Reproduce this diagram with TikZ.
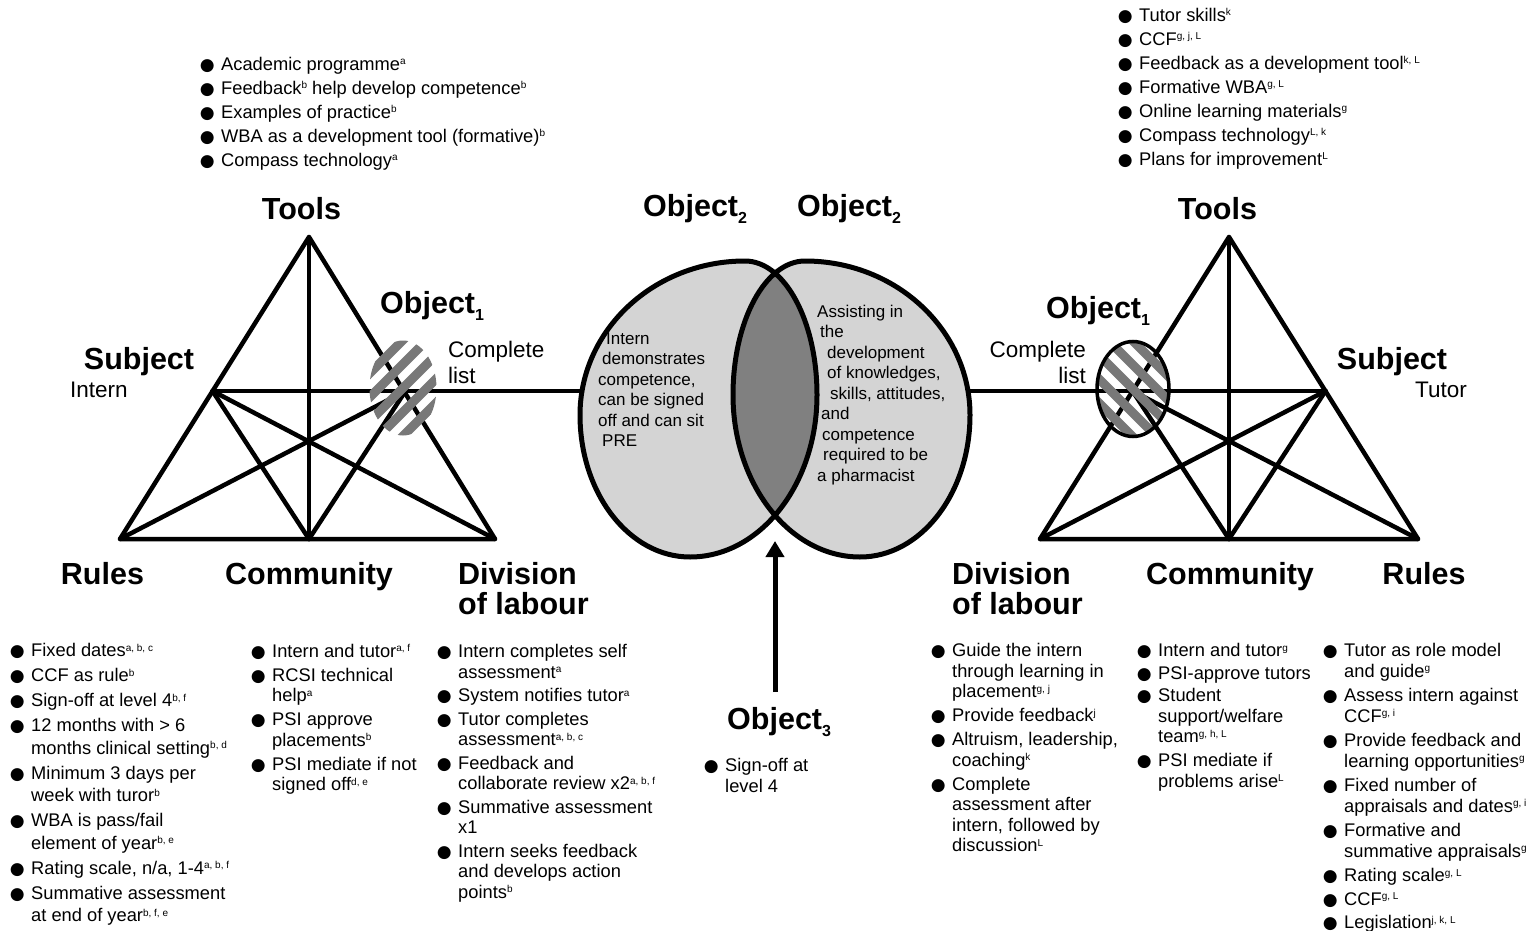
\documentclass[tikz,border=0pt]{standalone}
\usepackage{fontspec}
\setmainfont{Liberation Sans}
\newfontfamily\djv{DejaVu Sans}
\usetikzlibrary{arrows.meta}
\definecolor{lightfill}{gray}{0.83}
\definecolor{darkfill}{gray}{0.5}
\definecolor{hatchc}{gray}{0.47}
\newcommand{\bu}{\makebox[18.5pt][l]{\makebox[9pt]{\djv\fontsize{17}{17}\selectfont ●}}}
\newcommand{\sps}[1]{\raisebox{5.5pt}{\fontsize{10}{10}\selectfont #1}}
\newcommand{\sbs}[1]{\raisebox{-7pt}{\fontsize{16}{16}\selectfont\bfseries #1}}
\tikzset{
 ln/.style={line width=4.5pt, line cap=round, line join=round},
 eln/.style={line width=5pt},
 blab/.style={anchor=base, inner sep=0pt, font=\fontsize{30.5}{34}\selectfont\bfseries},
 blabw/.style={anchor=base west, inner sep=0pt, font=\fontsize{30.5}{34}\selectfont\bfseries},
 rlab/.style={anchor=base west, inner sep=0pt, font=\fontsize{22.5}{26}\selectfont},
 lst/.style={anchor=base west, inner sep=0pt, font=\fontsize{18.3}{20.5}\selectfont},
 etxt/.style={anchor=base west, inner sep=0pt, font=\fontsize{17}{20.5}\selectfont},
 stripe/.style={line width=9pt, hatchc},
}
\begin{document}
\begin{tikzpicture}[x=1pt,y=-1pt]
\fill[white] (0,0) rectangle (1534,931);
\useasboundingbox (0,0) rectangle (1534,931);

% left activity triangle
\coordinate (LT) at (309,237);
\coordinate (LR) at (120,539);
\coordinate (LC) at (309,539);
\coordinate (LD) at (495,539);
\coordinate (LS) at (212.5,391);
\coordinate (LO) at (405.5,391);
% right activity triangle
\coordinate (RT) at (1229,237);
\coordinate (RD) at (1040,539);
\coordinate (RC) at (1229,539);
\coordinate (RR) at (1418,539);
\coordinate (RO) at (1132.5,391);
\coordinate (RS) at (1325.5,391);
% big ovals
\coordinate (E1h) at (699,391);
\coordinate (E2h) at (851,391);

\draw[ln] (LT) -- (LR) -- (LD) -- cycle;
\draw[ln] (LT) -- (LC);
\draw[ln] (LS) -- (LC);
\draw[ln] (LS) -- (LD);
\draw[ln] (LO) -- (LR);
\draw[ln] (LO) -- (LC);
\draw[ln] (LS) -- (E1h);

\draw[ln] (RT) -- (RD) -- (RR) -- cycle;
\draw[ln] (RT) -- (RC);
\draw[ln] (RS) -- (RC);
\draw[ln] (RS) -- (RD);
\draw[ln] (RO) -- (RR);
\draw[ln] (RO) -- (RC);
\draw[ln] (E2h) -- (RS);

% Venn of objects 2
\fill[lightfill] (580,415) .. controls (580,330) and (654,261) .. (745,261) .. controls (784.7,261) and (817,321) .. (817,395) .. controls (817,484.4) and (760.1,557) .. (690,557) .. controls (629.3,557) and (580,493.4) .. (580,415) -- cycle;
\fill[lightfill] (970,415) .. controls (970,330) and (896,261) .. (805,261) .. controls (765.3,261) and (733,321) .. (733,395) .. controls (733,484.4) and (789.9,557) .. (860,557) .. controls (920.7,557) and (970,493.4) .. (970,415) -- cycle;
\begin{scope}
\clip (580,415) .. controls (580,330) and (654,261) .. (745,261) .. controls (784.7,261) and (817,321) .. (817,395) .. controls (817,484.4) and (760.1,557) .. (690,557) .. controls (629.3,557) and (580,493.4) .. (580,415) -- cycle;
\fill[darkfill] (970,415) .. controls (970,330) and (896,261) .. (805,261) .. controls (765.3,261) and (733,321) .. (733,395) .. controls (733,484.4) and (789.9,557) .. (860,557) .. controls (920.7,557) and (970,493.4) .. (970,415) -- cycle;
\end{scope}
\draw[eln] (580,415) .. controls (580,330) and (654,261) .. (745,261) .. controls (784.7,261) and (817,321) .. (817,395) .. controls (817,484.4) and (760.1,557) .. (690,557) .. controls (629.3,557) and (580,493.4) .. (580,415) -- cycle;
\draw[eln] (970,415) .. controls (970,330) and (896,261) .. (805,261) .. controls (765.3,261) and (733,321) .. (733,395) .. controls (733,484.4) and (789.9,557) .. (860,557) .. controls (920.7,557) and (970,493.4) .. (970,415) -- cycle;

% hatched object 1 (left)
\coordinate (H1) at (403,388);
\begin{scope}
\clip (H1) ellipse [x radius=33.5, y radius=47.5];
\foreach \k in {-5,...,5}
  \draw[stripe, shift={({403+\k*12},{388+\k*12})}] (-70,70) -- (70,-70);
\end{scope}
% hatched object 1 (right)
\coordinate (H2) at (1133,389);
\begin{scope}
\clip (H2) ellipse [x radius=36, y radius=47.5];
\foreach \k in {-5,...,5}
  \draw[stripe, shift={({1133+\k*12},{389-\k*12})}] (-70,-70) -- (70,70);
\end{scope}
\draw[line width=3.5pt] (H2) ellipse [x radius=36, y radius=47.5];

% arrow object 3
\coordinate (meet) at (775,541);
\coordinate (foot) at (775,692);
\draw[line width=5pt, -{Triangle[length=16pt,width=18pt]}] (foot) -- (meet);

% labels left
\node[blab] (toolsL) at (301.5,219) {Tools};
\node[blab] (subjL) at (139,369) {Subject};
\node[rlab] (intern) at (70,397) {Intern};
\node[blabw] (obj1L) at (380,313) {Object\sbs{1}};
\node[rlab] (complL) at (448,357) {\begin{tabular}[t]{@{}l@{}}Complete\\list\end{tabular}};
\node[blab] (rulesL) at (102.5,584) {Rules};
\node[blab] (commL) at (309,584) {Community};
\node[blabw] (divL) at (458,584) {Division};
\node[blabw] (divL2) at (458,614) {of labour};

% labels right
\node[blab] (toolsR) at (1217.5,219) {Tools};
\node[blab] (subjR) at (1392,369) {Subject};
\node[rlab, anchor=base east] (tutor) at (1467,397) {Tutor};
\node[blabw] (obj1R) at (1046,318) {Object\sbs{1}};
\node[rlab, anchor=base east] (complR) at (1086,357) {\begin{tabular}[t]{@{}r@{}}Complete\\list\end{tabular}};
\node[blabw] (divR) at (952,584) {Division};
\node[blabw] (divR2) at (952,614) {of labour};
\node[blab] (commR) at (1230,584) {Community};
\node[blab] (rulesR) at (1424,584) {Rules};

% objects 2 and 3
\node[blabw] (obj2L) at (643,216) {Object\sbs{2}};
\node[blabw] (obj2R) at (797,216) {Object\sbs{2}};
\node[blabw] (obj3) at (727,729) {Object\sbs{3}};

\node[etxt] (o2Ltxt) at (598,344) {\begin{tabular}[t]{@{}l@{}}\hspace*{8pt}Intern\\\hspace*{4pt}demonstrates\\competence,\\can be signed\\off and can sit\\\hspace*{4pt}PRE\end{tabular}};
\node[etxt] (o2Rtxt) at (817,317) {\begin{tabular}[t]{@{}l@{}}Assisting in\\\hspace*{3pt}the\\\hspace*{10pt}development\\\hspace*{10pt}of knowledges,\\\hspace*{13pt}skills, attitudes,\\\hspace*{4pt}and\\\hspace*{5pt}competence\\\hspace*{6pt}required to be\\a pharmacist\end{tabular}};

% lists
\node[lst, font=\fontsize{18.3}{24}\selectfont] (toolsLlist) at (202.5,70.5) {\begin{tabular}[t]{@{}l@{}l@{}}
\bu & Academic programme\sps{a}\\
\bu & Feedback\sps{b} help develop competence\sps{b}\\
\bu & Examples of practice\sps{b}\\
\bu & WBA as a development tool (formative)\sps{b}\\
\bu & Compass technology\sps{a}
\end{tabular}};

\node[lst, font=\fontsize{18.3}{24}\selectfont] (toolsRlist) at (1120.5,21.5) {\begin{tabular}[t]{@{}l@{}l@{}}
\bu & Tutor skills\sps{k}\\
\bu & CCF\sps{g, j, L}\\
\bu & Feedback as a development tool\sps{k, L}\\
\bu & Formative WBA\sps{g, L}\\
\bu & Online learning materials\sps{g}\\
\bu & Compass technology\sps{L, k}\\
\bu & Plans for improvement\sps{L}
\end{tabular}};

\node[lst, font=\fontsize{18.3}{22.5}\selectfont] (rulesLlist) at (12.5,656.5) {\begin{tabular}[t]{@{}l@{}l@{}}
\bu & Fixed dates\sps{a, b, c}\\[2.5pt]
\bu & CCF as rule\sps{b}\\[2.5pt]
\bu & Sign-off at level 4\sps{b, f}\\[2.5pt]
\bu & 12 months with > 6\\
 & months clinical setting\sps{b, d}\\[2.5pt]
\bu & Minimum 3 days per\\
 & week with turor\sps{b}\\[2.5pt]
\bu & WBA is pass/fail\\
 & element of year\sps{b, e}\\[2.5pt]
\bu & Rating scale, n/a, 1-4\sps{a, b, f}\\[2.5pt]
\bu & Summative assessment\\
 & at end of year\sps{b, f, e}
\end{tabular}};

\node[lst] (commLlist) at (253.5,657) {\begin{tabular}[t]{@{}l@{}l@{}}
\bu & Intern and tutor\sps{a, f}\\[3.5pt]
\bu & RCSI technical\\
 & help\sps{a}\\[3.5pt]
\bu & PSI approve\\
 & placements\sps{b}\\[3.5pt]
\bu & PSI mediate if not\\
 & signed off\sps{d, e}
\end{tabular}};

\node[lst] (divLlist) at (439.5,657.5) {\begin{tabular}[t]{@{}l@{}l@{}}
\bu & Intern completes self\\
 & assessment\sps{a}\\[3pt]
\bu & System notifies tutor\sps{a}\\[3pt]
\bu & Tutor completes\\
 & assessment\sps{a, b, c}\\[3pt]
\bu & Feedback and\\
 & collaborate review x2\sps{a, b, f}\\[3pt]
\bu & Summative assessment\\
 & x1\\[3pt]
\bu & Intern seeks feedback\\
 & and develops action\\
 & points\sps{b}
\end{tabular}};

\node[lst] (obj3list) at (706.5,771.5) {\begin{tabular}[t]{@{}l@{}l@{}}
\bu & Sign-off at\\
 & level 4
\end{tabular}};

\node[lst] (divRlist) at (933.5,656.5) {\begin{tabular}[t]{@{}l@{}l@{}}
\bu & Guide the intern\\
 & through learning in\\
 & placement\sps{g, j}\\[3.5pt]
\bu & Provide feedback\sps{j}\\[3.5pt]
\bu & Altruism, leadership,\\
 & coaching\sps{k}\\[3.5pt]
\bu & Complete\\
 & assessment after\\
 & intern, followed by\\
 & discussion\sps{L}
\end{tabular}};

\node[lst] (commRlist) at (1139.5,656.5) {\begin{tabular}[t]{@{}l@{}l@{}}
\bu & Intern and tutor\sps{g}\\[2pt]
\bu & PSI-approve tutors\\[2pt]
\bu & Student\\
 & support/welfare\\
 & team\sps{g, h, L}\\[3.5pt]
\bu & PSI mediate if\\
 & problems arise\sps{L}
\end{tabular}};

\node[lst] (rulesRlist) at (1325.5,656.5) {\begin{tabular}[t]{@{}l@{}l@{}}
\bu & Tutor as role model\\
 & and guide\sps{g}\\[4pt]
\bu & Assess intern against\\
 & CCF\sps{g, i}\\[4pt]
\bu & Provide feedback and\\
 & learning opportunities\sps{g}\\[4pt]
\bu & Fixed number of\\
 & appraisals and dates\sps{g, i}\\[4pt]
\bu & Formative and\\
 & summative appraisals\sps{g}\\[4pt]
\bu & Rating scale\sps{g, L}\\[3pt]
\bu & CCF\sps{g, L}\\[3pt]
\bu & Legislation\sps{j, k, L}
\end{tabular}};
\end{tikzpicture}
\end{document}
